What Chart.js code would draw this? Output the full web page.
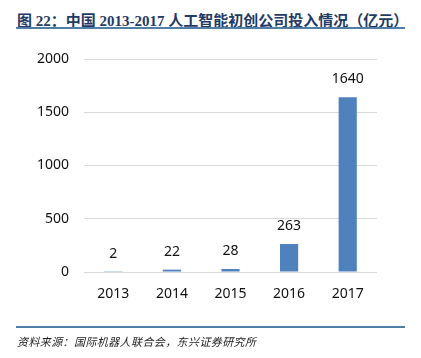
<!DOCTYPE html>
<html>
<head>
<meta charset="utf-8">
<script src="https://cdn.jsdelivr.net/npm/chart.js@4/dist/chart.umd.min.js"></script>
<style>
  html, body { margin: 0; padding: 0; background: #fff; }
  #wrap { position: relative; width: 421px; height: 358px; overflow: hidden; }
  #title {
    position: absolute; left: 17px; top: 9px;
    font-family: "Liberation Serif", "Noto Sans CJK SC", serif;
    font-weight: bold; font-size: 15px; color: #1f3b66; white-space: pre;
  }
  .rule { position: absolute; left: 16px; width: 389px; height: 2px; background: #4f7fa8; }
  #source {
    position: absolute; left: 17px; top: 333px;
    font-family: "Noto Sans CJK SC", sans-serif; font-style: italic;
    font-size: 11px; color: #222; letter-spacing: 0.4px; white-space: nowrap;
  }
  #chart { position: absolute; left: 0; top: 0; }
</style>
</head>
<body>
<div id="wrap">
  <div id="title">图 22：中国 2013-2017 人工智能初创公司投入情况（亿元）</div>
  <div class="rule" style="top:27px"></div>
  <canvas id="chart" width="421" height="358"></canvas>
  <div class="rule" style="top:326px"></div>
  <div id="source">资料来源：国际机器人联合会，东兴证券研究所</div>
</div>
<script>
const years = ['2013', '2014', '2015', '2016', '2017'];
const investment = [2, 22, 28, 263, 1640];
const yTicks = [0, 500, 1000, 1500, 2000];

const chartFont = '"Noto Sans", sans-serif';

// labels above each bar
const valueLabels = {
    id: 'valueLabels',
    afterDatasetsDraw(chart) {
        const ctx = chart.ctx;
        const meta = chart.getDatasetMeta(0);
        ctx.save();
        ctx.font = '14px ' + chartFont;
        ctx.fillStyle = '#111';
        ctx.textAlign = 'center';
        ctx.textBaseline = 'middle';
        meta.data.forEach((bar, i) => {
            ctx.fillText(String(investment[i]), bar.x, bar.y - 18);
        });
        ctx.restore();
    }
};

new Chart(document.getElementById('chart'), {
    type: 'bar',
    data: {
        labels: years,
        datasets: [{
            data: investment,
            backgroundColor: '#4f81bd',
            categoryPercentage: 1,
            barPercentage: 0.31,
        }]
    },
    options: {
        responsive: false,
        animation: false,
        layout: { padding: { left: 0, right: 44, top: 59, bottom: 46 } },
        plugins: {
            legend: { display: false },
            tooltip: { enabled: false },
        },
        scales: {
            x: {
                grid: { display: false, drawTicks: false },
                border: { display: false },
                ticks: { color: '#111', font: { family: chartFont, size: 14 }, padding: 14 },
                afterFit(scale) { scale.height = 40; }
            },
            y: {
                min: 0,
                max: 2000,
                afterBuildTicks(scale) { scale.ticks = yTicks.map(v => ({ value: v })); },
                grid: { color: '#d9d9d9', lineWidth: 1, drawTicks: false },
                border: { display: false },
                ticks: {
                    color: '#111',
                    font: { family: chartFont, size: 14 },
                    padding: 15,
                    callback: v => String(v)
                },
                afterFit(scale) { scale.width = 84; }
            }
        }
    },
    plugins: [valueLabels]
});
</script>
</body>
</html>
